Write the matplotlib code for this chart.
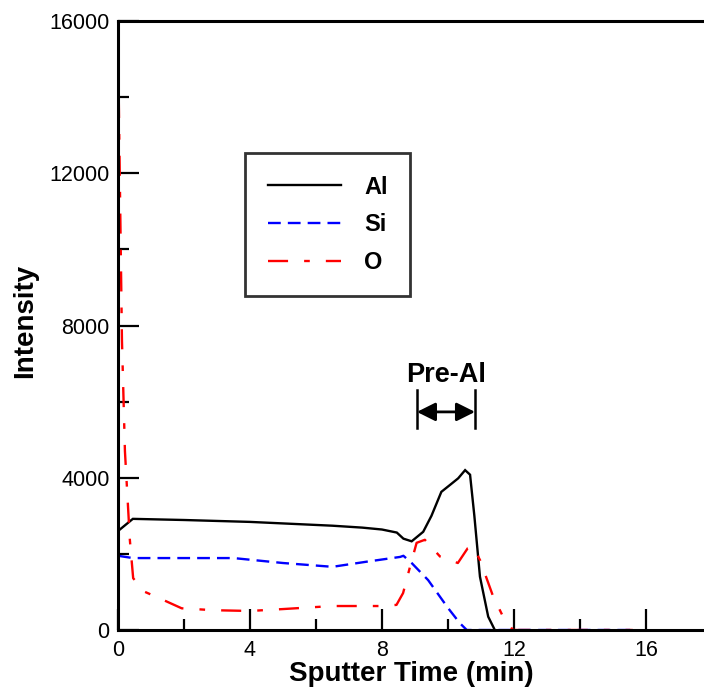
import matplotlib
matplotlib.use("Agg")
import matplotlib.pyplot as plt
from matplotlib.ticker import MultipleLocator

plt.rcParams['font.family'] = ['Liberation Sans', 'DejaVu Sans']

# Data
al_x = [0.0, 0.45, 2.0, 4.0, 6.5, 7.4, 8.0, 8.45, 8.65, 8.9, 9.25, 9.5, 9.8, 10.06, 10.31, 10.52, 10.67, 10.8, 10.97, 11.22, 11.42]
al_y = [2600, 2920, 2890, 2840, 2740, 2690, 2640, 2560, 2400, 2330, 2580, 3000, 3630, 3810, 3985, 4200, 4080, 3000, 1400, 350, 0]

si_x = [0.0, 0.45, 3.5, 5.0, 6.5, 7.5, 8.55, 8.65, 8.9, 9.4, 10.0, 10.36, 10.57, 15.6]
si_y = [1950, 1890, 1890, 1760, 1660, 1790, 1920, 1950, 1760, 1310, 580, 180, 0, 0]

o_x = [0.0, 0.12, 0.21, 0.36, 0.46, 0.82, 1.37, 1.93, 2.9, 4.0, 5.0, 6.5, 8.03, 8.44, 8.64, 8.85, 9.05, 9.3, 9.76, 10.3, 10.6, 10.75, 10.97, 11.37, 11.67, 11.97, 15.6]
o_y = [15500, 7600, 4700, 2360, 1360, 1000, 790, 570, 520, 500, 550, 630, 630, 660, 970, 1660, 2290, 2370, 1930, 1760, 2150, 2200, 1840, 880, 350, 0, 0]

series_labels = ['Al', 'Si', 'O']

fig = plt.figure(figsize=(7.04, 7.0), dpi=100)
ax = fig.add_axes([118/704, 70/700, 586/704, 609/700])

lw = 1.7
ax.plot(al_x, al_y, color='black', lw=lw, label=series_labels[0], solid_joinstyle='miter')
ax.plot(si_x, si_y, color='#0000ff', lw=lw, dashes=(5.4, 3.0), label=series_labels[1])
ax.plot(o_x, o_y, color='#ff0000', lw=lw, dashes=(8.5, 6.8, 2.4, 6.8), label=series_labels[2])

ax.set_xlim(0, 17.76)
ax.set_ylim(0, 16000)
ax.xaxis.set_major_locator(MultipleLocator(4))
ax.xaxis.set_minor_locator(MultipleLocator(2))
ax.yaxis.set_major_locator(MultipleLocator(4000))
ax.yaxis.set_minor_locator(MultipleLocator(2000))
ax.tick_params(which='both', direction='in', width=1.6, top=False, right=False)
ax.tick_params(which='major', length=15, labelsize=15.5)
ax.tick_params(axis='x', which='major', pad=7)
ax.tick_params(axis='y', which='major', pad=6)
ax.tick_params(which='minor', length=8)
for s in ['left', 'bottom', 'top']:
    ax.spines[s].set_linewidth(2.2)
ax.spines['right'].set_visible(False)

ax.set_xlabel('Sputter Time (min)', fontsize=20, fontweight='bold', labelpad=0)
ax.set_ylabel('Intensity', fontsize=20, fontweight='bold')
ax.yaxis.set_label_coords(-0.137, 0.507)

leg = ax.legend(loc='upper left', bbox_to_anchor=(0.217, 0.783),
                prop={'weight': 'bold', 'size': 17}, frameon=True, fancybox=False,
                handlelength=3.1, handletextpad=1.0, borderpad=0.95, labelspacing=0.62,
                borderaxespad=0)
leg.get_frame().set_edgecolor('black')
leg.get_frame().set_linewidth(2.0)

# Pre-Al annotation
x1, x2 = 9.06, 10.82
ya = 5730
ax.annotate('', xy=(x1, ya), xytext=(x2, ya),
            arrowprops=dict(arrowstyle='<|-|>', color='black', lw=2, mutation_scale=28,
                            shrinkA=0, shrinkB=0))
ax.plot([x1, x1], [5300, 6300], color='black', lw=1.8)
ax.plot([x2, x2], [5300, 6300], color='black', lw=1.8)
ax.text((x1 + x2) / 2, 6700, 'Pre-Al', ha='center', va='center', fontsize=19.5, fontweight='bold')

fig.savefig('out.png', dpi=100)
